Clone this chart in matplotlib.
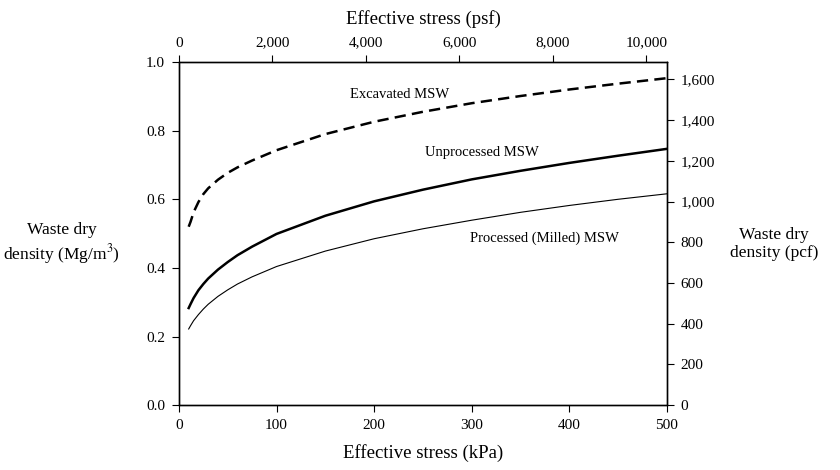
import matplotlib
matplotlib.use("Agg")
import matplotlib.pyplot as plt
from matplotlib.ticker import FuncFormatter

plt.rcParams['font.family'] = ['Liberation Serif', 'DejaVu Serif']
plt.rcParams['mathtext.fontset'] = 'stix'

# effective stress (kPa) and dry density (Mg/m3)
stress_kpa = [10, 12, 15, 20, 25, 30, 40, 50, 60, 75, 100, 150, 200, 250, 300, 350, 400, 450, 500]
excavated = [0.52, 0.535, 0.562, 0.592, 0.615, 0.632, 0.657, 0.677, 0.693, 0.713, 0.743,
             0.790, 0.826, 0.855, 0.880, 0.901, 0.920, 0.937, 0.953]
unprocessed = [0.283, 0.295, 0.312, 0.335, 0.353, 0.369, 0.395, 0.417, 0.437, 0.462, 0.499,
               0.552, 0.594, 0.628, 0.658, 0.683, 0.706, 0.727, 0.747]
processed = [0.222, 0.232, 0.246, 0.264, 0.280, 0.294, 0.317, 0.336, 0.353, 0.374, 0.404,
             0.449, 0.485, 0.514, 0.539, 0.562, 0.582, 0.600, 0.616]

kpa_ticks = [0, 100, 200, 300, 400, 500]
psf_ticks = [0, 2000, 4000, 6000, 8000, 10000]
dens_ticks = [0.0, 0.2, 0.4, 0.6, 0.8, 1.0]
right_ticks = [0, 200, 400, 600, 800, 1000, 1200, 1400, 1600]

KPA_TO_PSF = 20.8854
MG_TO_RIGHT = 1685.55

fig = plt.figure(figsize=(8.4, 4.7), dpi=100)
ax = fig.add_axes([0.213, 0.138, 0.581, 0.730])

ax.plot(stress_kpa, excavated, color='black', lw=1.8, linestyle=(0, (4.5, 2.5)))
ax.plot(stress_kpa, unprocessed, color='black', lw=1.8)
ax.plot(stress_kpa, processed, color='black', lw=0.8)

ax.set_xlim(0, 500)
ax.set_ylim(0, 1.0)
ax.set_xticks(kpa_ticks)
ax.set_yticks(dens_ticks)
ax.yaxis.set_major_formatter(FuncFormatter(lambda v, p: f'{v:.1f}'))
ax.tick_params(direction='out', length=5, width=0.8, labelsize=11, pad=5)
ax.set_xlabel('Effective stress (kPa)', fontsize=13.5, labelpad=9)
ax.set_ylabel('Waste dry\ndensity (Mg/m$^3$)', fontsize=12.5, rotation=0,
              ha='center', va='center', labelpad=0)
ax.yaxis.set_label_coords(-0.24, 0.47)

ax.text(226, 0.905, 'Excavated MSW', fontsize=10.5, ha='center', va='center')
ax.text(310, 0.735, 'Unprocessed MSW', fontsize=10.5, ha='center', va='center')
ax.text(374, 0.487, 'Processed (Milled) MSW', fontsize=10.5, ha='center', va='center')

thousands = FuncFormatter(lambda v, p: f'{int(v):,}')

top = ax.twiny()
top.set_xlim(0, 500 * KPA_TO_PSF)
top.set_xticks(psf_ticks)
top.xaxis.set_major_formatter(thousands)
top.tick_params(direction='out', length=5, width=0.8, labelsize=11, pad=4)
top.set_xlabel('Effective stress (psf)', fontsize=13.5, labelpad=9)

right = ax.twinx()
right.set_ylim(0, MG_TO_RIGHT)
right.set_yticks(right_ticks)
right.yaxis.set_major_formatter(thousands)
right.tick_params(direction='out', length=5, width=0.8, labelsize=11, pad=5)
right.set_ylabel('Waste dry\ndensity (pcf)', fontsize=12.5, rotation=0,
                 ha='center', va='center', labelpad=0)
right.yaxis.set_label_coords(1.22, 0.47)

for a in (ax, top, right):
    for s in a.spines.values():
        s.set_linewidth(0.9)

fig.savefig('out.png', dpi=100)
